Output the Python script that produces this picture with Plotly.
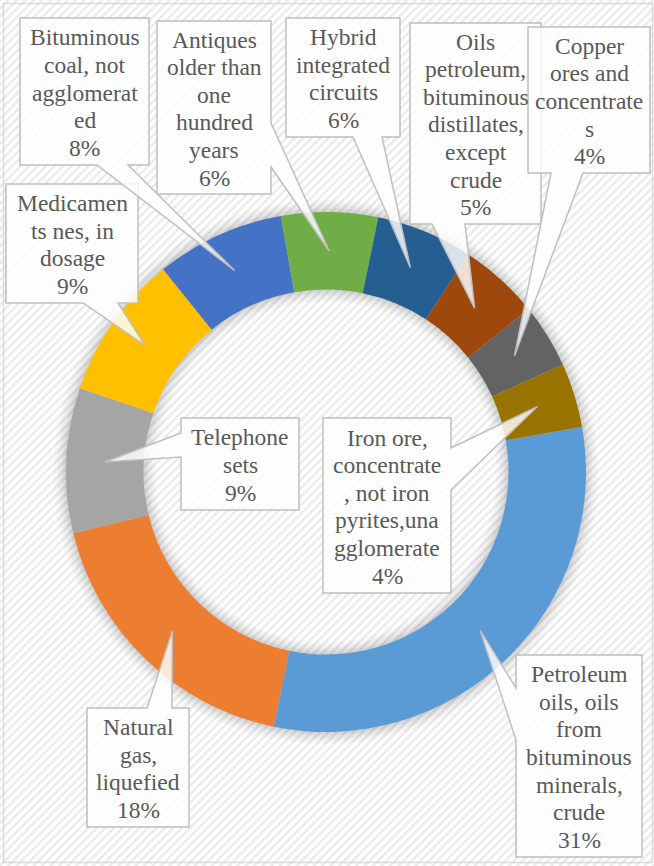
import numpy as np
import plotly.graph_objects as go

# ---------------- data ----------------
categories = [
    "Petroleum oils, oils from bituminous minerals, crude",
    "Natural gas, liquefied",
    "Telephone sets",
    "Medicaments nes, in dosage",
    "Bituminous coal, not agglomerated",
    "Antiques older than one hundred years",
    "Hybrid integrated circuits",
    "Oils petroleum, bituminous distillates, except crude",
    "Copper ores and concentrates",
    "Iron ore, concentrate, not iron pyrites,unagglomerate",
]
shares = [31, 18, 9, 9, 8, 6, 6, 5, 4, 4]
label_lines = [
    ["Petroleum", "oils, oils", "from", "bituminous", "minerals,", "crude"],
    ["Natural", "gas,", "liquefied"],
    ["Telephone", "sets"],
    ["Medicamen", "ts nes, in", "dosage"],
    ["Bituminous", "coal, not", "agglomerat", "ed"],
    ["Antiques", "older than", "one", "hundred", "years"],
    ["Hybrid", "integrated", "circuits"],
    ["Oils", "petroleum,", "bituminous", "distillates,", "except", "crude"],
    ["Copper", "ores and", "concentrate", "s"],
    ["Iron ore,", "concentrate", ", not iron", "pyrites,una", "gglomerate"],
]
colors = ["#5B9BD5", "#ED7D31", "#A5A5A5", "#FFC000", "#4472C4",
          "#70AD47", "#255E91", "#9E480E", "#636363", "#997300"]

# ---------------- layout geometry (pixels) ----------------
W, H = 654, 866
CX, CY, R_OUT, R_IN = 326, 472, 260, 182.5
ROTATION = 80

# callout boxes: (x0, y0, x1, y1), side of the pointer, pointer base span
callouts = [
    ((516, 655, 642, 857), "left", (688, 740)),
    ((87, 708, 189, 827), "top", (147, 172)),
    ((181, 418, 299, 510), "left", (433, 457)),
    ((6, 184, 138, 303), "bottom", (83, 118)),
    ((20, 18, 149, 165), "bottom", (97, 128)),
    ((157, 21, 271, 194), "right", (123, 167)),
    ((286, 18, 400, 137), "bottom", (353, 382)),
    ((410, 23, 541, 224), "bottom", (432, 465)),
    ((528, 27, 650, 173), "bottom", (551, 583)),
    ((323, 418, 451, 593), "right", (448, 490)),
]
draw_order = [0, 1, 2, 3, 4, 5, 6, 7, 8, 9]

FONT = "Liberation Serif"
FSIZE = 23.5
LINE_SP = 27.6
TXT = "#595959"


def pxp(x, y):
    return x / W, 1 - y / H


def domain_for(r):
    return dict(x=[(CX - r) / W, (CX + r) / W], y=[1 - (CY + r) / H, 1 - (CY - r) / H])


fig = go.Figure()

# background hatch
fig.add_trace(go.Scatter(
    x=[0, 1, 1, 0, 0], y=[0, 0, 1, 1, 0], mode="lines", fill="toself",
    line=dict(width=0), fillcolor="white",
    fillpattern=dict(shape="/", fgcolor="#D4D4D4", bgcolor="white", size=6, solidity=0.4),
    hoverinfo="skip", showlegend=False))

# soft shadow around ring
for d in [12, 9, 6.5, 4.5, 3, 1.5]:
    ro = R_OUT + d
    ri = R_IN - d
    fig.add_trace(go.Pie(values=[1], marker=dict(colors=["rgba(0,0,0,0.026)"], line=dict(width=0)),
                         hole=ri / ro, domain=domain_for(ro), textinfo="none",
                         hoverinfo="skip", showlegend=False, sort=False))

fig.add_trace(go.Pie(
    labels=categories, values=shares, sort=False, direction="clockwise",
    rotation=ROTATION, hole=R_IN / R_OUT, domain=domain_for(R_OUT),
    marker=dict(colors=colors, line=dict(width=0)), textinfo="none",
    showlegend=False))

# callouts
total = sum(shares)
mids = []
acc = 0
for v in shares:
    mids.append(np.deg2rad(ROTATION + (acc + v / 2) / total * 360))
    acc += v
R_MID = (R_OUT + R_IN) / 2

shapes = []
annotations = []
for i in draw_order:
    (x0, y0, x1, y1), side, (a, b) = callouts[i]
    tip = (CX + R_MID * np.sin(mids[i]), CY - R_MID * np.cos(mids[i]))
    pts = [(x0, y0)]
    if side == "top":
        pts += [(a, y0), tip, (b, y0)]
    pts.append((x1, y0))
    if side == "right":
        pts += [(x1, a), tip, (x1, b)]
    pts.append((x1, y1))
    if side == "bottom":
        pts += [(b, y1), tip, (a, y1)]
    pts.append((x0, y1))
    if side == "left":
        pts += [(x0, b), tip, (x0, a)]
    path = "M " + " L ".join("%.5f,%.5f" % pxp(x, y) for x, y in pts) + " Z"
    shapes.append(dict(type="path", xref="paper", yref="paper", path=path,
                       fillcolor="rgba(255,255,255,0.82)",
                       line=dict(color="#BFBFBF", width=1.5), layer="above"))
    lines = label_lines[i] + ["%d%%" % round(shares[i] / total * 100)]
    n = len(lines)
    cxb = (x0 + x1) / 2
    cyb = (y0 + y1) / 2 + 1
    for k, t in enumerate(lines):
        yy = cyb + (k - (n - 1) / 2) * LINE_SP
        xp, yp = pxp(cxb, yy)
        annotations.append(dict(x=xp, y=yp, xref="paper", yref="paper", text=t,
                                showarrow=False, xanchor="center", yanchor="middle",
                                font=dict(family=FONT, size=FSIZE, color=TXT)))

# outer border
bx0, by0 = pxp(3.5, 3.5)
bx1, by1 = pxp(652.5, 862.5)
shapes.append(dict(type="rect", xref="paper", yref="paper", x0=bx0, y0=by1, x1=bx1, y1=by0,
                   line=dict(color="#D9D9D9", width=1.5), fillcolor="rgba(0,0,0,0)", layer="above"))

fig.update_layout(
    width=W, height=H, margin=dict(l=0, r=0, t=0, b=0),
    paper_bgcolor="white", plot_bgcolor="white",
    font=dict(family=FONT, color=TXT),
    xaxis=dict(visible=False, range=[0, 1], domain=[0, 1], fixedrange=True),
    yaxis=dict(visible=False, range=[0, 1], domain=[0, 1], fixedrange=True),
    shapes=shapes, annotations=annotations, showlegend=False,
)

fig.write_html("out.html", config={"displayModeBar": False},
               post_script="document.body.style.margin='0px';document.body.style.overflow='hidden';")
